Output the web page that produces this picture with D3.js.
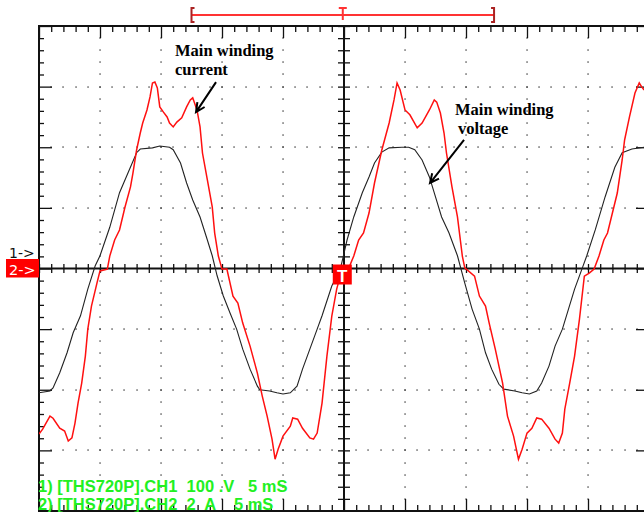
<!DOCTYPE html>
<html>
<head>
<meta charset="utf-8">
<script src="https://cdn.jsdelivr.net/npm/d3@7"></script>
<style>
  body { margin: 0; background: #fff; }
  svg { display: block; }
</style>
</head>
<body>
<svg id="scope" width="644" height="512"></svg>
<script>
// scope settings
const timePerDiv = 5;     // mS
const voltPerDiv = 100;   // V  (CH1)
const ampPerDiv = 2;      // A  (CH2)
const minorPerDiv = 5;

// CH1 main winding voltage, time in mS, value in V
const voltTime = [-25.0,-24.1,-23.85,-23.3,-22.7,-22.2,-21.6,-21.0,-20.4,-20.0,-19.2,-18.4,-17.7,-17.0,-16.7,-15.7,-15.1,-14.3,-14.0,-13.4,-12.9,-12.4,-11.8,-11.2,-10.8,-10.4,-9.9,-9.35,-8.8,-8.3,-7.7,-7.1,-6.9,-6.1,-5.5,-5.0,-4.4,-3.85,-3.4,-2.8,-2.2,-1.8,-1.0,-0.3,0.25,0.8,1.5,2.05,2.5,3.1,3.7,4.75,5.3,5.8,6.4,7.0,7.5,8.0,8.6,9.3,9.9,10.5,11.1,11.6,12.1,12.7,13.1,14.0,14.6,15.2,15.8,16.2,16.8,17.3,17.9,18.4,18.9,19.5,19.9,20.6,21.4,22.2,22.8,23.6,24.6];
const voltValue = [-205,-202,-197,-172,-139,-106,-78,-34,4,21,68,125,158,191,197,199,202,200,196,174,141,113,85,47,21,-12,-45,-73,-100,-133,-166,-194,-200,-202,-205,-207,-205,-194,-166,-133,-100,-78,-29,-1,47,85,125,151,174,192,199,200,200,196,179,151,118,85,59,21,-24,-67,-100,-139,-166,-191,-199,-202,-205,-207,-202,-189,-161,-128,-100,-67,-34,-1,21,64,118,167,191,197,200];

// CH2 main winding current, time in mS, value in A
const currTime = [-25.0,-24.7,-24.1,-23.85,-23.3,-22.9,-22.6,-22.3,-22.05,-21.8,-21.5,-21.2,-21.0,-20.7,-20.25,-20.0,-19.4,-19.2,-18.8,-18.4,-17.95,-17.5,-17.3,-17.0,-16.7,-16.5,-16.15,-15.9,-15.7,-15.5,-15.3,-15.1,-14.8,-14.5,-14.3,-14.0,-13.7,-13.3,-12.9,-12.6,-12.4,-12.05,-11.8,-11.6,-11.2,-10.8,-10.6,-10.3,-10.0,-9.6,-9.1,-8.7,-8.3,-7.7,-7.1,-6.7,-6.3,-5.9,-5.65,-5.4,-5.0,-4.4,-4.2,-3.8,-3.4,-2.8,-2.5,-2.2,-1.8,-1.4,-1.0,-0.6,-0.16,0.4,0.8,1.2,1.6,2.05,2.5,3.1,3.7,4.1,4.35,4.6,5.0,5.4,6.0,6.4,7.0,7.4,7.6,7.9,8.2,8.4,8.85,9.3,9.7,9.9,10.7,11.1,11.6,11.9,12.4,13.0,13.4,13.9,14.3,14.6,15.0,15.4,15.8,16.2,16.8,17.3,17.6,17.9,18.1,18.5,18.9,19.3,19.7,20.1,20.5,20.9,21.3,21.6,22.0,22.4,22.8,23.0,23.4,23.85,24.2,24.4,24.6];
const currValue = [-5.46,-5.30,-4.87,-4.94,-5.27,-5.36,-5.69,-5.59,-5.10,-4.44,-3.78,-2.89,-2.00,-1.24,-0.48,-0.08,-0.02,0.41,0.94,1.27,2.03,2.69,3.15,3.91,4.47,4.80,5.23,5.66,6.12,6.15,5.96,5.33,5.16,5.00,4.80,4.67,4.83,4.97,5.33,5.56,5.63,5.23,4.67,3.81,2.92,2.03,1.17,0.41,-0.02,-0.02,-0.91,-1.14,-1.80,-2.56,-3.45,-4.21,-4.87,-5.63,-6.29,-5.96,-5.53,-5.20,-4.93,-4.97,-5.27,-5.59,-5.63,-5.43,-4.44,-2.89,-1.57,-0.68,-0.02,0.02,0.41,0.94,1.17,1.83,2.82,3.91,4.80,5.56,6.12,5.89,5.23,5.07,4.64,4.80,5.23,5.56,5.49,5.13,4.47,3.81,2.69,1.70,0.41,0.02,-0.25,-0.91,-1.24,-1.80,-2.66,-3.78,-4.87,-5.53,-6.29,-5.96,-5.43,-5.27,-4.93,-4.97,-5.27,-5.63,-5.76,-5.43,-4.64,-3.78,-2.89,-1.67,-0.25,-0.15,-0.02,0.41,0.94,1.17,1.83,2.49,3.58,4.24,5.00,5.79,6.12,5.99,5.89];

const channelLines = ["1) [THS720P].CH1  100 .V   5 mS", "2) [THS720P].CH2  2  A    5 mS"];
const windowStart = -12.5, windowEnd = 12.3, triggerTime = -0.1;   // mS, red bar on top

const svg = d3.select("#scope");
svg.append("rect").attr("width", 644).attr("height", 512).attr("fill", "#fff");

const x = d3.scaleLinear().domain([-5 * timePerDiv, 5 * timePerDiv]).range([39, 649]);
const yDiv = d3.scaleLinear().domain([-4, 4]).range([511, 26]);
const yVolt = yDiv.copy().domain([-4 * voltPerDiv, 4 * voltPerDiv]);
const yAmp = yDiv.copy().domain([-4 * ampPerDiv, 4 * ampPerDiv]);

const tMinor = d3.range(-25, 26);                       // every 1 mS
const tMajor = d3.range(-25, 26, timePerDiv);
const dMinor = d3.range(-20, 21).map(i => i / minorPerDiv);
const dMajor = d3.range(-4, 5);

// dotted grid
const dots = [];
tMajor.filter(t => t !== 0 && Math.abs(t) < 25).forEach(t =>
  dMinor.filter(d => Math.abs(d) < 4).forEach(d => dots.push([x(t), yDiv(d)])));
dMajor.filter(d => d !== 0 && Math.abs(d) < 4).forEach(d =>
  tMinor.filter(t => Math.abs(t) < 25).forEach(t => dots.push([x(t), yDiv(d)])));
svg.append("g").selectAll("rect").data(dots).join("rect")
  .attr("x", d => Math.round(d[0]) - 0.6).attr("y", d => Math.round(d[1]) - 0.6)
  .attr("width", 1.3).attr("height", 1.3).attr("fill", "#333");

// frame and tick marks
function tickAxis(axis, vals, size, tx, ty) {
  const g = svg.append("g").attr("transform", `translate(${tx},${ty})`)
    .call(axis.tickValues(vals).tickSize(size).tickFormat(""));
  g.select(".domain").remove();
  g.selectAll("line").attr("stroke", "#111").attr("stroke-width", 1.3);
}
const tMinorOnly = tMinor.filter(t => t % timePerDiv !== 0);
const dMinorOnly = dMinor.filter(d => Math.abs(d - Math.round(d)) > 1e-6);
tickAxis(d3.axisBottom(x), tMinorOnly, 6, 0, 26);
tickAxis(d3.axisBottom(x), tMajor, 12, 0, 26);
tickAxis(d3.axisTop(x), tMinorOnly, 6, 0, 511);
tickAxis(d3.axisTop(x), tMajor, 12, 0, 511);
tickAxis(d3.axisRight(yDiv), dMinorOnly, 5, 39, 0);
tickAxis(d3.axisRight(yDiv), dMajor, 13, 39, 0);
tickAxis(d3.axisLeft(yDiv), dMinorOnly, 5, 649, 0);
tickAxis(d3.axisLeft(yDiv), dMajor, 13, 649, 0);
// centre cross with ticks on both sides
tickAxis(d3.axisTop(x), tMinor, 4.5, 0, yDiv(0));
tickAxis(d3.axisBottom(x), tMinor, 4.5, 0, yDiv(0));
tickAxis(d3.axisLeft(yDiv), dMinor, 6, x(0), 0);
tickAxis(d3.axisRight(yDiv), dMinor, 6, x(0), 0);

svg.append("rect").attr("x", 39).attr("y", 26).attr("width", 610).attr("height", 485)
  .attr("fill", "none").attr("stroke", "#111").attr("stroke-width", 2);
svg.append("line").attr("x1", 39).attr("x2", 649).attr("y1", yDiv(0)).attr("y2", yDiv(0))
  .attr("stroke", "#111").attr("stroke-width", 2);
svg.append("line").attr("x1", x(0)).attr("x2", x(0)).attr("y1", 26).attr("y2", 511)
  .attr("stroke", "#111").attr("stroke-width", 2);

// traces
svg.append("clipPath").attr("id", "plot").append("rect")
  .attr("x", 39).attr("y", 26).attr("width", 610).attr("height", 485);
const voltData = voltTime.map((t, i) => ({t: t, v: voltValue[i]}));
const currData = currTime.map((t, i) => ({t: t, v: currValue[i]}));
svg.append("path").datum(voltData).attr("clip-path", "url(#plot)")
  .attr("d", d3.line().x(d => x(d.t)).y(d => yVolt(d.v)))
  .attr("fill", "none").attr("stroke", "#222").attr("stroke-width", 1.1);
svg.append("path").datum(currData).attr("clip-path", "url(#plot)")
  .attr("d", d3.line().x(d => x(d.t)).y(d => yAmp(d.v)))
  .attr("fill", "none").attr("stroke", "#ff1010").attr("stroke-width", 1.5);

// channel markers
const markFont = "DejaVu Sans, Verdana, sans-serif";
svg.append("text").attr("x", 9).attr("y", yDiv(0) - 11).text("1->")
  .attr("font-family", markFont).attr("font-size", 14).attr("fill", "#111");
svg.append("rect").attr("x", 6).attr("y", yDiv(0) - 9.5).attr("width", 33).attr("height", 18.5).attr("fill", "#f00");
svg.append("text").attr("x", 9).attr("y", yDiv(0) + 6.5).text("2->")
  .attr("font-family", markFont).attr("font-size", 14.5).attr("fill", "#fff");
svg.append("rect").attr("x", x(triggerTime) - 10).attr("y", yDiv(0) - 4).attr("width", 19).attr("height", 20).attr("fill", "#f00");
svg.append("text").attr("x", x(triggerTime) - 0.5).attr("y", yDiv(0) + 13).text("T").attr("text-anchor", "middle")
  .attr("font-family", "Liberation Sans, Arial, sans-serif").attr("font-size", 17).attr("font-weight", "bold").attr("fill", "#fff");

// window bar above the screen
const bar = svg.append("g").attr("stroke", "#f33").attr("stroke-width", 2).attr("fill", "none");
bar.append("line").attr("x1", x(windowStart)).attr("x2", x(windowEnd)).attr("y1", 15).attr("y2", 15);
bar.append("path").attr("d", `M${x(windowStart) + 3},8H${x(windowStart)}V22H${x(windowStart) + 3}`).attr("stroke", "#a22");
bar.append("path").attr("d", `M${x(windowEnd) - 3},8H${x(windowEnd)}V22H${x(windowEnd) - 3}`).attr("stroke", "#a22");
bar.append("path").attr("d", `M${x(triggerTime) - 4},8H${x(triggerTime) + 4}M${x(triggerTime)},8V20`);

// annotations
function arrow(x1, y1, x2, y2) {
  const a = Math.atan2(y2 - y1, x2 - x1), h = 10;
  const p = (s) => [x2 - h * Math.cos(a + s), y2 - h * Math.sin(a + s)];
  const l = p(0.45), r = p(-0.45);
  svg.append("path").attr("d", `M${x1},${y1}L${x2},${y2}M${l[0]},${l[1]}L${x2},${y2}L${r[0]},${r[1]}`)
    .attr("fill", "none").attr("stroke", "#000").attr("stroke-width", 2);
}
function note(tx, ty, lines, dx2) {
  const t = svg.append("text").attr("font-family", "Liberation Serif, Times New Roman, serif")
    .attr("font-size", 16.5).attr("font-weight", "bold").attr("fill", "#000");
  lines.forEach((s, i) => t.append("tspan").attr("x", tx + (i ? dx2 : 0)).attr("y", ty + i * 19).text(s));
}
note(x(-13.85), yAmp(7.01), ["Main winding", "current"], 0);
arrow(x(-10.49), yAmp(6.15), x(-12.13), yAmp(5.16));
note(x(9.10), yVolt(253), ["Main winding", "voltage"], 3);
arrow(x(9.84), yVolt(212), x(7.05), yVolt(141));

// channel settings text
svg.append("g").selectAll("text").data(channelLines).join("text")
  .attr("x", 38).attr("y", (d, i) => 492 + i * 18).text(d => d)
  .style("white-space", "pre")
  .attr("font-family", "Liberation Sans, Arial, sans-serif").attr("font-size", 16.5).attr("font-weight", "bold")
  .attr("fill", "#22f022");
</script>
</body>
</html>
